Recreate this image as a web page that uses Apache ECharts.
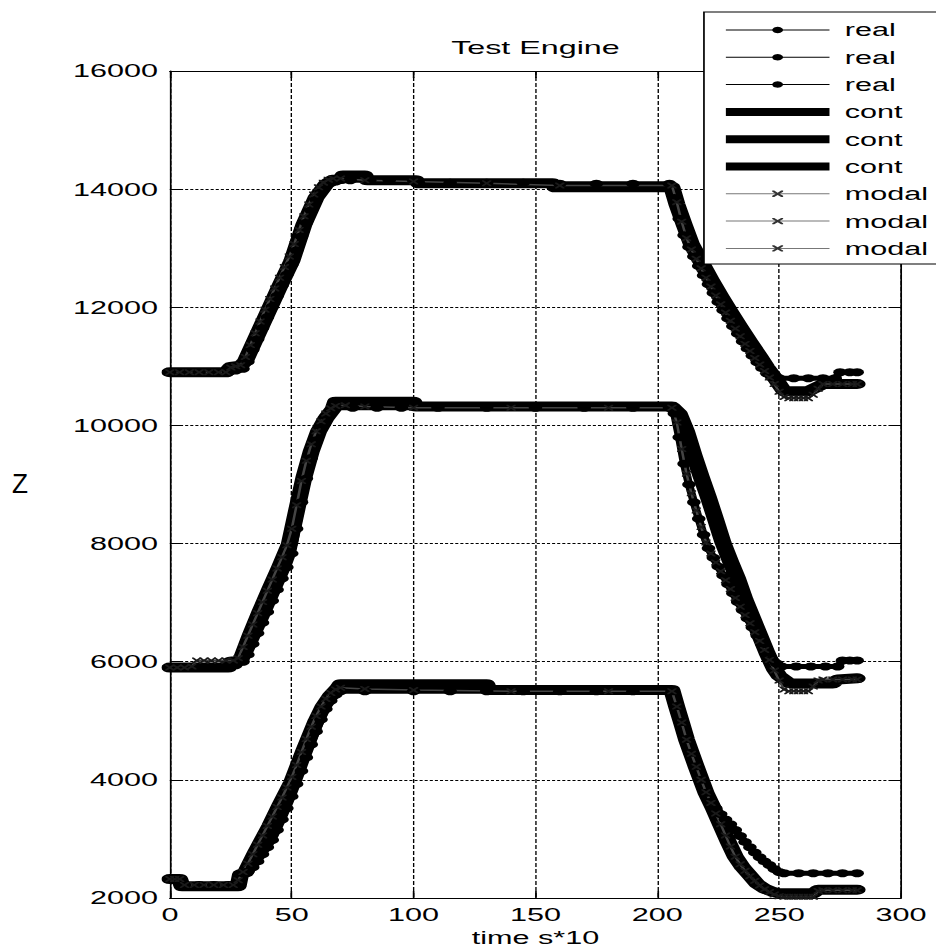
<!DOCTYPE html>
<html><head><meta charset="utf-8">
<script src="https://cdn.jsdelivr.net/npm/echarts@6.0.0/dist/echarts.min.js"></script>
<style>
html,body{margin:0;padding:0;background:#fff;overflow:hidden;width:936px;height:948px}
#chart{width:551px;height:948px;transform:scale(1.69873,1);transform-origin:0 0}
</style>
</head><body><div id="chart"></div>
<script>
// ---- tick labels / categories ----
const xTicks = [0, 50, 100, 150, 200, 250, 300];
const yTicks = [2000, 4000, 6000, 8000, 10000, 12000, 14000, 16000];
const legendLabels = ['real','real','real','cont','cont','cont','modal','modal','modal'];
const titleText = 'Test Engine';
const xName = 'time s*10';
const yName = 'Z';

// ---- series values [time s*10, Z] ----
const realTop = [[0,10900],[6,10900],[12,10900],[18,10900],[24,10900],[27,10930],[30,10960],[32,11080],[34,11280],[36,11460],[38,11650],[40,11830],[42,12010],[44,12190],[46,12370],[48,12550],[50,12720],[52,12960],[54,13200],[56,13430],[58,13640],[60,13820],[62,13950],[64,14050],[66,14110],[68,14130],[74,14150],[82,14150],[90,14150],[100,14150],[102,14110],[115,14110],[130,14110],[145,14110],[160,14090],[175,14090],[190,14090],[205,14090],[207,13850],[209,13500],[211,13220],[213,13020],[215,12860],[217,12700],[219,12540],[221,12390],[223,12240],[225,12090],[227,11950],[229,11810],[231,11680],[233,11550],[235,11420],[237,11300],[239,11180],[241,11070],[243,10970],[245,10880],[247,10810],[250,10800],[256,10800],[262,10800],[268,10800],[273,10800],[275,10900],[279,10900],[282,10900]];
const realMid = [[0,5900],[6,5900],[12,5900],[18,5900],[24,5900],[27,5940],[30,6000],[32,6120],[34,6300],[36,6480],[38,6660],[40,6840],[42,7030],[44,7220],[46,7410],[48,7600],[50,7830],[52,8250],[54,8700],[56,9100],[58,9450],[60,9750],[62,9980],[64,10150],[66,10250],[68,10300],[75,10300],[85,10300],[95,10300],[110,10300],[130,10300],[150,10300],[170,10300],[190,10300],[205,10300],[207,10200],[209,9800],[211,9350],[213,9000],[215,8700],[217,8420],[219,8150],[221,7920],[223,7760],[225,7610],[227,7460],[229,7310],[231,7160],[233,7010],[235,6870],[237,6730],[239,6580],[241,6440],[243,6290],[245,6150],[247,6040],[249,5970],[251,5920],[257,5920],[263,5920],[269,5920],[274,5920],[276,6020],[279,6020],[282,6020]];
const realBot = [[0,2320],[4,2320],[6,2220],[12,2220],[18,2220],[24,2220],[28,2260],[30,2420],[32,2450],[34,2520],[36,2620],[38,2740],[40,2860],[42,2980],[44,3150],[46,3330],[48,3520],[50,3720],[52,3930],[54,4150],[56,4380],[58,4600],[60,4820],[62,5020],[64,5200],[66,5340],[68,5440],[70,5500],[80,5500],[100,5500],[115,5500],[130,5500],[145,5500],[160,5500],[175,5500],[190,5500],[206,5500],[208,5250],[210,4980],[212,4690],[214,4460],[216,4230],[218,4000],[220,3780],[222,3630],[224,3520],[226,3420],[228,3330],[230,3250],[232,3150],[234,3050],[236,2950],[238,2860],[240,2770],[242,2690],[244,2620],[246,2560],[248,2490],[250,2440],[252,2420],[258,2420],[264,2420],[270,2420],[276,2420],[282,2420]];

const contTop = [[0,10900],[23,10900],[25,10990],[29,11010],[31,11090],[35,11450],[40,11900],[45,12350],[50,12780],[55,13400],[60,13860],[64,14080],[67,14160],[70,14170],[71,14230],[80,14230],[81,14150],[101,14150],[102,14100],[157,14100],[158,14030],[206,14030],[208,13750],[211,13400],[214,13070],[218,12770],[222,12470],[226,12190],[230,11920],[234,11660],[238,11410],[242,11170],[245,10980],[248,10820],[250,10700],[252,10580],[262,10580],[265,10640],[268,10700],[282,10700]];
const contMid = [[0,5900],[24,5900],[25,6000],[29,6020],[33,6450],[37,6850],[41,7230],[45,7600],[49,7990],[52,8560],[55,9120],[58,9560],[61,9900],[64,10120],[67,10280],[68,10400],[100,10400],[101,10320],[206,10320],[209,10200],[212,9900],[215,9500],[218,9130],[221,8780],[224,8400],[227,8010],[230,7700],[233,7400],[236,7050],[239,6750],[242,6450],[245,6150],[248,5880],[250,5760],[252,5700],[254,5640],[256,5630],[272,5630],[274,5700],[282,5720]];
const contBot = [[0,2320],[4,2320],[5,2200],[28,2200],[29,2400],[31,2430],[35,2760],[41,3220],[45,3560],[50,3960],[55,4500],[60,5000],[63,5250],[66,5430],[69,5560],[70,5620],[130,5620],[131,5520],[206,5520],[208,5230],[210,4960],[212,4680],[216,4220],[220,3780],[223,3520],[226,3240],[229,2960],[232,2700],[235,2520],[238,2380],[241,2240],[244,2160],[247,2110],[250,2080],[264,2080],[266,2140],[282,2140]];

const modalTop = [[0,10900],[4,10900],[8,10900],[12,10900],[16,10900],[20,10900],[23,10900],[25,10980],[27,11000],[29,11020],[31,11160],[33,11360],[35,11560],[37,11760],[39,11960],[41,12140],[43,12320],[45,12500],[47,12680],[49,12860],[51,13070],[53,13310],[55,13540],[57,13740],[59,13910],[61,14030],[63,14110],[65,14160],[67,14180],[70,14180],[80,14150],[100,14130],[130,14100],[160,14060],[206,14060],[208,13780],[210,13450],[212,13170],[214,12980],[216,12820],[218,12660],[220,12500],[222,12350],[224,12200],[226,12050],[228,11910],[230,11770],[232,11640],[234,11510],[236,11380],[238,11260],[240,11140],[242,11030],[244,10920],[246,10810],[248,10700],[250,10570],[252,10480],[254,10460],[256,10460],[258,10460],[260,10460],[262,10460],[264,10520],[266,10620],[268,10700],[272,10700],[276,10700],[280,10700],[282,10700]];
const modalMid = [[0,5900],[3,5900],[6,5900],[9,5920],[11,6020],[14,6020],[17,6020],[20,6020],[23,6020],[26,6020],[28,6060],[30,6250],[32,6440],[34,6630],[36,6820],[38,7010],[40,7200],[42,7390],[44,7580],[46,7770],[48,7970],[50,8250],[52,8650],[54,9060],[56,9400],[58,9680],[60,9900],[62,10070],[64,10200],[66,10290],[68,10330],[72,10340],[80,10320],[100,10300],[140,10300],[180,10300],[206,10300],[208,10050],[210,9600],[212,9180],[214,8850],[216,8560],[218,8280],[220,8020],[222,7830],[224,7680],[226,7530],[228,7380],[230,7230],[232,7080],[234,6930],[236,6790],[238,6650],[240,6500],[242,6350],[244,6200],[246,6030],[248,5850],[250,5680],[252,5530],[254,5500],[256,5500],[258,5500],[260,5500],[262,5500],[264,5580],[266,5680],[268,5700],[272,5700],[276,5700],[280,5700],[282,5700]];
const modalBot = [[0,2320],[2,2320],[4,2320],[6,2220],[10,2220],[14,2220],[18,2220],[22,2220],[26,2220],[28,2300],[30,2440],[32,2580],[34,2740],[36,2900],[38,3060],[40,3220],[42,3380],[44,3540],[46,3700],[48,3870],[50,4050],[52,4250],[54,4470],[56,4690],[58,4900],[60,5080],[62,5240],[64,5370],[66,5470],[68,5530],[70,5560],[80,5540],[100,5520],[140,5500],[180,5500],[206,5500],[208,5240],[210,4970],[212,4680],[214,4440],[216,4220],[218,4000],[220,3790],[222,3610],[224,3430],[226,3250],[228,3060],[230,2870],[232,2700],[234,2570],[236,2460],[238,2370],[240,2290],[242,2210],[244,2150],[246,2100],[248,2060],[250,2030],[252,2020],[254,2020],[256,2020],[258,2020],[260,2020],[262,2020],[264,2020],[266,2120],[268,2130],[272,2130],[276,2130],[280,2130],[282,2130]];

const seriesData = [realTop, realMid, realBot, contTop, contMid, contBot, modalTop, modalMid, modalBot];

// ---- styling ----
const FONT = '"Liberation Sans", Arial, Helvetica, sans-serif';
const X_PATH = 'path://M0,0L1.8,0L5,3.2L8.2,0L10,0L10,1.8L6.8,5L10,8.2L10,10L8.2,10L5,6.8L1.8,10L0,10L0,8.2L3.2,5L0,1.8Z';
const W = 551, H = 948;
const GRID = {left: 100, right: 20.6, top: 71, bottom: 50};

const chart = echarts.init(document.getElementById('chart'), null, {renderer: 'svg', width: W, height: H});

const series = seriesData.map((d, i) => {
  const kind = legendLabels[i];
  const base = {
    type: 'line', name: kind + (i % 3 + 1), data: d, animation: false,
    emphasis: {disabled: true}, clip: true, showAllSymbol: true
  };
  if (kind === 'real') {
    return Object.assign(base, {
      symbol: 'circle', symbolSize: [8, 8],
      itemStyle: {color: '#000'},
      lineStyle: {color: '#000', width: 5, join: 'round'}
    });
  } else if (kind === 'cont') {
    return Object.assign(base, {
      symbol: 'circle', showSymbol: false,
      itemStyle: {color: '#000'},
      lineStyle: {color: '#000', width: 10, cap: 'round', join: 'round'}
    });
  }
  return Object.assign(base, {
    symbol: X_PATH, symbolSize: [5.5, 6],
    itemStyle: {color: '#1a1a1a'},
    lineStyle: {color: '#444', width: 1.5}
  });
});

const legendData = series.map((s, i) => {
  const kind = legendLabels[i];
  if (kind === 'cont') return {name: s.name, icon: 'rect'};
  if (kind === 'real') return {name: s.name, lineStyle: {width: 1, color: '#000'}};
  return {name: s.name, lineStyle: {width: 1, color: '#777'}, itemStyle: {color: '#333'}};
});

const axisTextStyle = {color: '#000', fontSize: 18, fontFamily: FONT};
const xMin = xTicks[0], xMax = xTicks[xTicks.length - 1], xInt = xTicks[1] - xTicks[0];
const yMin = yTicks[0], yMax = yTicks[yTicks.length - 1], yInt = yTicks[1] - yTicks[0];

const option = {
  animation: false,
  backgroundColor: '#fff',
  title: {
    text: titleText, left: (GRID.left + (W - GRID.right)) / 2, top: 38, textAlign: 'center', padding: 0,
    textStyle: {fontFamily: FONT, fontSize: 19, fontWeight: 'normal', color: '#000'}
  },
  graphic: [{
    type: 'text', x: 11.8, y: 483, scaleX: 0.55, silent: true,
    style: {text: yName, fontFamily: FONT, fontSize: 28, fill: '#000', align: 'center', verticalAlign: 'middle'}
  }],
  legend: {
    show: true, orient: 'vertical', left: 414.4, top: 12,
    padding: [9, 30, 6.6, 12.4], itemWidth: 61, itemHeight: 8, itemGap: 9.3,
    backgroundColor: '#fff', borderColor: '#000', borderWidth: 1, borderRadius: 0,
    selectedMode: false, z: 10,
    textStyle: {fontFamily: FONT, fontSize: 18, color: '#000', padding: [0, 0, 0, 4]},
    formatter: n => n.replace(/\d+$/, ''),
    data: legendData
  },
  grid: Object.assign({containLabel: false, outerBoundsMode: 'none'}, GRID),
  xAxis: [{
    type: 'value', min: xMin, max: xMax, interval: xInt, position: 'bottom',
    axisLine: {show: true, onZero: false, lineStyle: {color: '#000', width: 1}},
    axisTick: {show: true, inside: true, length: 7, lineStyle: {color: '#000', width: 1}},
    axisLabel: Object.assign({margin: 8, formatter: v => String(v)}, axisTextStyle),
    splitLine: {show: true, lineStyle: {color: '#000', width: 0.8, type: [4, 2]}},
    name: xName, nameLocation: 'middle', nameGap: 29, nameTextStyle: axisTextStyle
  }, {
    type: 'value', min: xMin, max: xMax, interval: xInt, position: 'top',
    axisLine: {show: true, onZero: false, lineStyle: {color: '#000', width: 1}},
    axisTick: {show: true, inside: true, length: 7, lineStyle: {color: '#000', width: 1}},
    axisLabel: {show: false}, splitLine: {show: false}
  }],
  yAxis: [{
    type: 'value', min: yMin, max: yMax, interval: yInt, position: 'left',
    axisLine: {show: true, onZero: false, lineStyle: {color: '#000', width: 1}},
    axisTick: {show: true, inside: true, length: 7, lineStyle: {color: '#000', width: 1}},
    axisLabel: Object.assign({margin: 7, formatter: v => String(v)}, axisTextStyle),
    splitLine: {show: true, lineStyle: {color: '#000', width: 0.8, type: [1.8, 1.2]}}
  }, {
    type: 'value', min: yMin, max: yMax, interval: yInt, position: 'right',
    axisLine: {show: true, onZero: false, lineStyle: {color: '#000', width: 1}},
    axisTick: {show: true, inside: true, length: 7, lineStyle: {color: '#000', width: 1}},
    axisLabel: {show: false}, splitLine: {show: false}
  }],
  series: series
};
chart.setOption(option);
</script>
</body></html>
